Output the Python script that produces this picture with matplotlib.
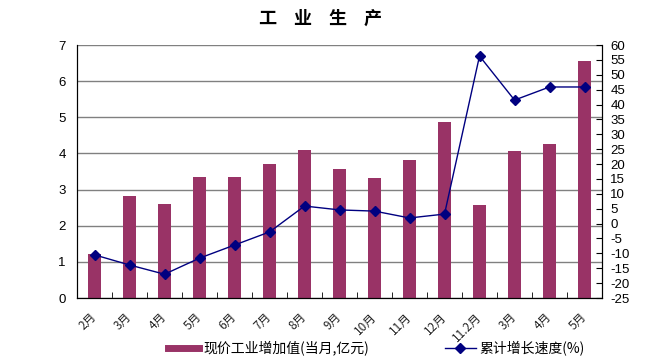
import matplotlib
matplotlib.use("Agg")
import matplotlib.pyplot as plt
from matplotlib.lines import Line2D

plt.rcParams['font.family'] = ['Liberation Sans', 'Noto Sans CJK SC', 'DejaVu Sans']
plt.rcParams['axes.unicode_minus'] = False

# 数据
months = ['2月', '3月', '4月', '5月', '6月', '7月', '8月', '9月', '10月',
          '11月', '12月', '11.2月', '3月', '4月', '5月']
value_added = [1.23, 2.83, 2.61, 3.35, 3.35, 3.72, 4.10, 3.57, 3.33,
               3.82, 4.87, 2.56, 4.06, 4.26, 6.56]
growth = [-10.5, -13.9, -17.0, -11.6, -7.2, -2.8, 5.9, 4.6, 4.2,
          1.9, 3.2, 56.3, 41.5, 45.9, 45.9]
title_chars = ['工', '业', '生', '产']

bar_color = '#993366'
line_color = '#000080'
cjk = ['Noto Sans CJK SC', 'DejaVu Sans']

fig = plt.figure(figsize=(6.55, 3.63), dpi=100)
ax = fig.add_axes([0.1176, 0.179, 0.8015, 0.697])
x = list(range(len(months)))

ax.bar(x, value_added, width=0.37, color=bar_color, zorder=2)
ax.set_xlim(-0.5, len(months) - 0.5)
ax.set_ylim(0, 7)
ax.set_yticks(range(0, 8))
ax.yaxis.grid(True, color='#808080', linewidth=1)
ax.set_axisbelow(True)
ax.set_xticks(x)
ax.set_xticklabels(months, rotation=45, fontsize=8.5, family=cjk,
                   ha='right', va='center', rotation_mode='anchor', color='#222222')
ax.set_xticks([i + 0.5 for i in x[:-1]], minor=True)
ax.tick_params(axis='x', which='major', length=0, pad=12)
ax.tick_params(axis='x', which='minor', direction='in', length=4)
ax.tick_params(axis='y', labelsize=9.5, length=0, pad=8)
ax.spines['top'].set_visible(False)

ax2 = ax.twinx()
ax2.plot(x, growth, color=line_color, linewidth=1, marker='D', markersize=5,
         markerfacecolor=line_color, markeredgecolor=line_color, zorder=3)
ax2.set_ylim(-25, 60)
ax2.set_yticks(range(-25, 61, 5))
ax2.tick_params(axis='y', direction='in', length=4, labelsize=9.5, pad=6)
ax2.spines['top'].set_visible(False)

# 标题（字间距较大）
for i, ch in enumerate(title_chars):
    fig.text((267 + i * 35.3) / 655, 0.95, ch, ha='center', va='center',
             fontsize=13, fontweight='bold', family=cjk)

handles = [Line2D([], [], color=bar_color, linewidth=5),
           Line2D([], [], color=line_color, linewidth=1, marker='D', markersize=5)]
labels = ['现价工业增加值(当月,亿元)', '累计增长速度(%)']
fig.legend(handles, labels, loc='center', bbox_to_anchor=(0.575, 0.04), ncol=2,
           frameon=False, handlelength=2.2, handletextpad=0.3,
           columnspacing=5.5, prop={'family': cjk, 'size': 10})

fig.savefig('out.png', dpi=100)
